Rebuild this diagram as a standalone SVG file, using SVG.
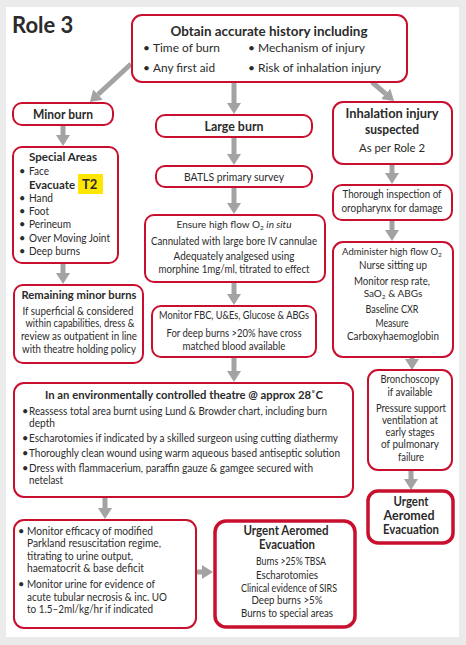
<svg xmlns="http://www.w3.org/2000/svg" width="466" height="645" viewBox="0 0 466 645">
<style>
.bx{fill:#fff;stroke:#c8102e;stroke-width:2}
.bt{fill:#fff;stroke:#c8102e;stroke-width:3.5}
text{font-family:Lato,"Open Sans",sans-serif;fill:#2b2b2b}
.h{font-weight:bold;font-size:13px}
.r{font-size:11px}
.s{font-size:10.8px}
.c{text-anchor:middle}
.ar{stroke:#a3a3a3;stroke-width:5;fill:none}
</style>
<defs>
<marker id="ah" markerUnits="userSpaceOnUse" viewBox="0 0 11 14" markerWidth="11" markerHeight="14" refX="0" refY="7" orient="auto">
<path d="M0,0 L11,7 L0,14 z" fill="#a3a3a3"/>
</marker>
</defs>
<rect width="466" height="645" fill="#ebebeb"/>
<rect x="6" y="7" width="453" height="630" fill="#fff"/>
<text x="12" y="33" style="font-weight:bold;font-size:22px">Role 3</text>

<g id="connectors">
<line class="ar" x1="131" y1="64" x2="98" y2="94.5" marker-end="url(#ah)"/>
<line class="ar" x1="234" y1="82" x2="234" y2="103" marker-end="url(#ah)"/>
<line class="ar" x1="372" y1="82" x2="385.7" y2="93.8" marker-end="url(#ah)"/>
<line class="ar" x1="63" y1="125" x2="63" y2="135" marker-end="url(#ah)"/>
<line class="ar" x1="63" y1="263" x2="63" y2="273" marker-end="url(#ah)"/>
<line class="ar" x1="234" y1="137" x2="234" y2="154" marker-end="url(#ah)"/>
<line class="ar" x1="234" y1="187" x2="234" y2="203" marker-end="url(#ah)"/>
<line class="ar" x1="234" y1="282" x2="234" y2="294" marker-end="url(#ah)"/>
<line class="ar" x1="234" y1="357" x2="234" y2="371" marker-end="url(#ah)"/>
<line class="ar" x1="105" y1="497" x2="105" y2="508" marker-end="url(#ah)"/>
<line class="ar" x1="196" y1="572" x2="202" y2="572" marker-end="url(#ah)"/>
<line class="ar" x1="392" y1="164" x2="392" y2="173" marker-end="url(#ah)"/>
<line class="ar" x1="392" y1="220" x2="392" y2="230" marker-end="url(#ah)"/>
<line class="ar" x1="412" y1="357" x2="412" y2="359" marker-end="url(#ah)"/>
<line class="ar" x1="411" y1="470" x2="411" y2="479" marker-end="url(#ah)"/>
</g>

<g id="history">
<rect class="bx" x="132" y="15" width="275" height="67" rx="10"/>
<text class="h c" x="269" y="36" textLength="197" lengthAdjust="spacingAndGlyphs">Obtain accurate history including</text>
<text x="143" y="52" style="font-size:12px">•</text><text x="153" y="52" style="font-size:12px" textLength="67" lengthAdjust="spacingAndGlyphs">Time of burn</text>
<text x="248" y="52" style="font-size:12px">•</text><text x="258" y="52" style="font-size:12px" textLength="107" lengthAdjust="spacingAndGlyphs">Mechanism of injury</text>
<text x="143" y="72" style="font-size:12px">•</text><text x="153" y="72" style="font-size:12px" textLength="62" lengthAdjust="spacingAndGlyphs">Any first aid</text>
<text x="248" y="72" style="font-size:12px">•</text><text x="258" y="72" style="font-size:12px" textLength="123" lengthAdjust="spacingAndGlyphs">Risk of inhalation injury</text>
</g>

<g id="minor">
<rect class="bx" x="13" y="103" width="100" height="22" rx="9"/>
<text class="h c" x="63" y="119" textLength="60" lengthAdjust="spacingAndGlyphs">Minor burn</text>
</g>

<g id="special">
<rect class="bx" x="13" y="147" width="105" height="116" rx="9"/>
<text class="h" x="29" y="161" style="font-size:12px" textLength="68" lengthAdjust="spacingAndGlyphs">Special Areas</text>
<text class="r" x="19" y="175">•</text><text class="r" x="29" y="175" textLength="20" lengthAdjust="spacingAndGlyphs">Face</text>
<rect x="78" y="174" width="25" height="20" fill="#ffe600"/>
<text class="h" x="29" y="189" style="font-size:12px" textLength="46" lengthAdjust="spacingAndGlyphs">Evacuate</text>
<text class="h" x="82" y="189" style="font-size:13px">T2</text>
<text class="r" x="19" y="202">•</text><text class="r" x="29" y="202" textLength="24" lengthAdjust="spacingAndGlyphs">Hand</text>
<text class="r" x="19" y="215">•</text><text class="r" x="29" y="215" textLength="20" lengthAdjust="spacingAndGlyphs">Foot</text>
<text class="r" x="19" y="228">•</text><text class="r" x="29" y="228" textLength="42" lengthAdjust="spacingAndGlyphs">Perineum</text>
<text class="r" x="19" y="242">•</text><text class="r" x="29" y="242" textLength="81" lengthAdjust="spacingAndGlyphs">Over Moving Joint</text>
<text class="r" x="19" y="255">•</text><text class="r" x="29" y="255" textLength="51" lengthAdjust="spacingAndGlyphs">Deep burns</text>
</g>

<g id="remaining">
<rect class="bx" x="14" y="285" width="129" height="78" rx="9"/>
<text class="h c" x="79" y="299" style="font-size:11.5px" textLength="115" lengthAdjust="spacingAndGlyphs">Remaining minor burns</text>
<text class="r c" x="78" y="315" textLength="111" lengthAdjust="spacingAndGlyphs">If superficial &amp; considered</text>
<text class="r c" x="80" y="327" textLength="109" lengthAdjust="spacingAndGlyphs">within capabilities, dress &amp;</text>
<text class="r c" x="79" y="340" textLength="116" lengthAdjust="spacingAndGlyphs">review as outpatient in line</text>
<text class="r c" x="79" y="353" textLength="114" lengthAdjust="spacingAndGlyphs">with theatre holding policy</text>
</g>

<g id="large">
<rect class="bx" x="156" y="115" width="156" height="22" rx="9"/>
<text class="h c" x="234" y="131" textLength="59" lengthAdjust="spacingAndGlyphs">Large burn</text>
</g>

<g id="batls">
<rect class="bx" x="156" y="166" width="156" height="21" rx="9"/>
<text class="r c" x="234" y="181" textLength="100" lengthAdjust="spacingAndGlyphs">BATLS primary survey</text>
</g>

<g id="ensure">
<rect class="bx" x="145" y="215" width="180" height="67" rx="9"/>
<text class="c" x="234" y="228" style="font-size:10px">Ensure high flow O<tspan font-size="6.5" dy="2">2</tspan><tspan dy="-2"> </tspan><tspan font-style="italic">in situ</tspan></text>
<text class="s c" x="234" y="245" textLength="166" lengthAdjust="spacingAndGlyphs">Cannulated with large bore IV cannulae</text>
<text class="s c" x="234" y="260" textLength="121" lengthAdjust="spacingAndGlyphs">Adequately analgesed using</text>
<text class="s c" x="234" y="273" textLength="151" lengthAdjust="spacingAndGlyphs">morphine 1mg/ml, titrated to effect</text>
</g>

<g id="monitorfbc">
<rect class="bx" x="152" y="306" width="164" height="51" rx="9"/>
<text class="s c" x="234" y="319" textLength="150" lengthAdjust="spacingAndGlyphs">Monitor FBC, U&amp;Es, Glucose &amp; ABGs</text>
<text class="s c" x="234" y="337" textLength="135" lengthAdjust="spacingAndGlyphs">For deep burns &gt;20% have cross</text>
<text class="s c" x="234" y="350" textLength="103" lengthAdjust="spacingAndGlyphs">matched blood available</text>
</g>

<g id="theatre">
<rect class="bx" x="14" y="383" width="339" height="114" rx="10"/>
<text class="h c" x="184" y="399" style="font-size:12px" textLength="278" lengthAdjust="spacingAndGlyphs">In an environmentally controlled theatre @ approx 28˚C</text>
<text class="r" x="22" y="415">•</text><text class="r" x="29" y="415" textLength="298" lengthAdjust="spacingAndGlyphs">Reassess total area burnt using Lund &amp; Browder chart, including burn</text>
<text class="r" x="29" y="427" textLength="26" lengthAdjust="spacingAndGlyphs">depth</text>
<text class="r" x="22" y="442">•</text><text class="r" x="29" y="442" textLength="309" lengthAdjust="spacingAndGlyphs">Escharotomies if indicated by a skilled surgeon using cutting diathermy</text>
<text class="r" x="22" y="457">•</text><text class="r" x="29" y="457" textLength="311" lengthAdjust="spacingAndGlyphs">Thoroughly clean wound using warm aqueous based antiseptic solution</text>
<text class="r" x="22" y="472">•</text><text class="r" x="29" y="472" textLength="284" lengthAdjust="spacingAndGlyphs">Dress with flammacerium, paraffin gauze &amp; gamgee secured with</text>
<text class="r" x="29" y="484" textLength="34" lengthAdjust="spacingAndGlyphs">netelast</text>
</g>

<g id="efficacy">
<rect class="bx" x="14" y="520" width="182" height="108" rx="10"/>
<text class="r" x="18" y="535">•</text><text class="r" x="27" y="535" textLength="126" lengthAdjust="spacingAndGlyphs">Monitor efficacy of modified</text>
<text class="r" x="27" y="547" textLength="134" lengthAdjust="spacingAndGlyphs">Parkland resuscitation regime,</text>
<text class="r" x="27" y="560" textLength="106" lengthAdjust="spacingAndGlyphs">titrating to urine output,</text>
<text class="r" x="27" y="572" textLength="117" lengthAdjust="spacingAndGlyphs">haematocrit &amp; base deficit</text>
<text class="r" x="18" y="588">•</text><text class="r" x="27" y="588" textLength="128" lengthAdjust="spacingAndGlyphs">Monitor urine for evidence of</text>
<text class="r" x="27" y="601" textLength="140" lengthAdjust="spacingAndGlyphs">acute tubular necrosis &amp; inc. UO</text>
<text class="r" x="27" y="613" textLength="126" lengthAdjust="spacingAndGlyphs">to 1.5–2ml/kg/hr if indicated</text>
</g>

<g id="aeromed">
<rect class="bt" x="215" y="521" width="140" height="106" rx="11"/>
<text class="h c" x="286" y="535" style="font-size:12.5px" textLength="85" lengthAdjust="spacingAndGlyphs">Urgent Aeromed</text>
<text class="h c" x="287" y="549" style="font-size:12.5px" textLength="56" lengthAdjust="spacingAndGlyphs">Evacuation</text>
<text class="s c" x="291" y="565" textLength="70" lengthAdjust="spacingAndGlyphs">Burns &gt;25% TBSA</text>
<text class="s c" x="287" y="579" textLength="62" lengthAdjust="spacingAndGlyphs">Escharotomies</text>
<text class="s c" x="289" y="592" textLength="96" lengthAdjust="spacingAndGlyphs">Clinical evidence of SIRS</text>
<text class="s c" x="287" y="604" textLength="71" lengthAdjust="spacingAndGlyphs">Deep burns &gt;5%</text>
<text class="s c" x="287" y="617" textLength="92" lengthAdjust="spacingAndGlyphs">Burns to special areas</text>
</g>

<g id="inhalation">
<rect class="bx" x="333" y="102" width="119" height="62" rx="10"/>
<text class="h c" x="392" y="118" textLength="93" lengthAdjust="spacingAndGlyphs">Inhalation injury</text>
<text class="h c" x="392" y="134" textLength="54" lengthAdjust="spacingAndGlyphs">suspected</text>
<text class="c" x="392" y="152" style="font-size:12px" textLength="66" lengthAdjust="spacingAndGlyphs">As per Role 2</text>
</g>

<g id="thorough">
<rect class="bx" x="333" y="185" width="119" height="35" rx="9"/>
<text class="s c" x="392" y="198" textLength="99" lengthAdjust="spacingAndGlyphs">Thorough inspection of</text>
<text class="s c" x="392" y="212" textLength="101" lengthAdjust="spacingAndGlyphs">oropharynx for damage</text>
</g>

<g id="administer">
<rect class="bx" x="333" y="242" width="120" height="115" rx="10"/>
<text class="c" x="392" y="255" style="font-size:9.5px">Administer high flow O<tspan font-size="6.5" dy="2">2</tspan></text>
<text class="s c" x="393" y="269" textLength="68" lengthAdjust="spacingAndGlyphs">Nurse sitting up</text>
<text class="s c" x="392" y="285" textLength="76" lengthAdjust="spacingAndGlyphs">Monitor resp rate,</text>
<text class="c" x="393" y="297" style="font-size:10px">SaO<tspan font-size="6.5" dy="2">2</tspan><tspan dy="-2"> &amp; ABGs</tspan></text>
<text class="s c" x="392" y="313" textLength="53" lengthAdjust="spacingAndGlyphs">Baseline CXR</text>
<text class="s c" x="392" y="327" textLength="33" lengthAdjust="spacingAndGlyphs">Measure</text>
<text class="s c" x="393" y="340" textLength="92" lengthAdjust="spacingAndGlyphs">Carboxyhaemoglobin</text>
</g>

<g id="bronchoscopy">
<rect class="bx" x="368" y="370" width="84" height="100" rx="10"/>
<text class="s c" x="410" y="383" textLength="59" lengthAdjust="spacingAndGlyphs">Bronchoscopy</text>
<text class="s c" x="410" y="396" textLength="45" lengthAdjust="spacingAndGlyphs">if available</text>
<text class="s c" x="411" y="412" textLength="70" lengthAdjust="spacingAndGlyphs">Pressure support</text>
<text class="s c" x="410" y="424" textLength="56" lengthAdjust="spacingAndGlyphs">ventilation at</text>
<text class="s c" x="410" y="436" textLength="49" lengthAdjust="spacingAndGlyphs">early stages</text>
<text class="s c" x="410" y="448" textLength="58" lengthAdjust="spacingAndGlyphs">of pulmonary</text>
<text class="s c" x="411" y="461" textLength="26" lengthAdjust="spacingAndGlyphs">failure</text>
</g>

<g id="aeromed2">
<rect class="bt" x="368" y="491" width="85" height="52" rx="10"/>
<text class="h c" x="411" y="506" style="font-size:12.5px" textLength="35" lengthAdjust="spacingAndGlyphs">Urgent</text>
<text class="h c" x="409" y="520" style="font-size:12.5px" textLength="51" lengthAdjust="spacingAndGlyphs">Aeromed</text>
<text class="h c" x="411" y="534" style="font-size:12.5px" textLength="56" lengthAdjust="spacingAndGlyphs">Evacuation</text>
</g>
</svg>
